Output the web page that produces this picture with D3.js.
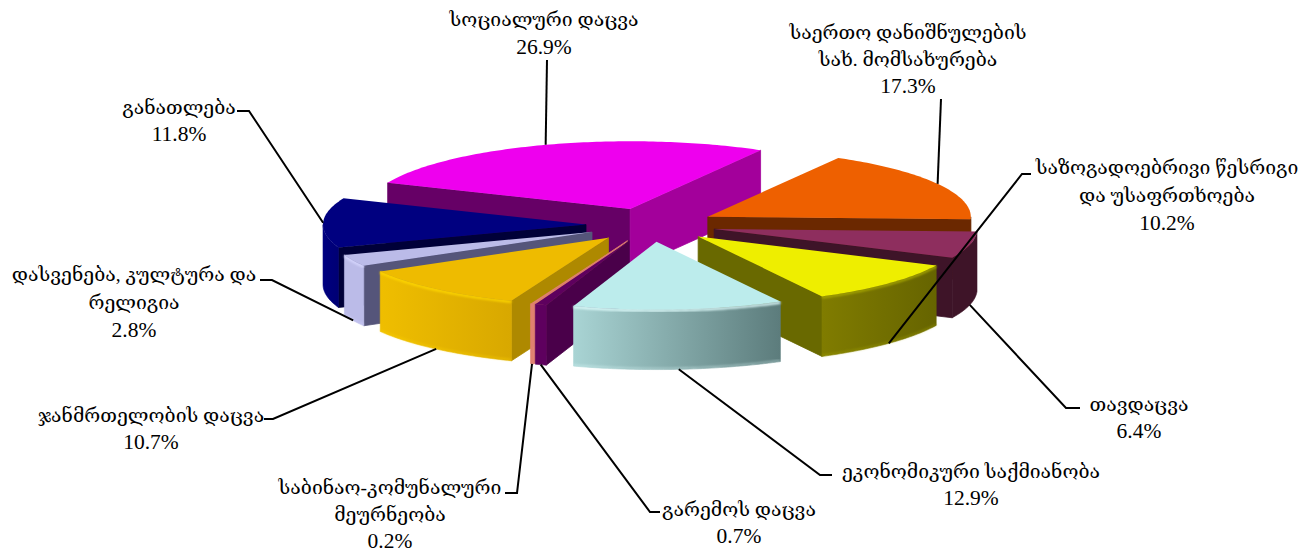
<!DOCTYPE html>
<html>
<head>
<meta charset="utf-8">
<style>
html, body { margin: 0; padding: 0; background: #fff; }
svg { display: block; }
text { font-family: "Liberation Serif", "DejaVu Serif", serif; font-size: 19.4px; fill: #000; text-anchor: middle; }
.pct { font-size: 21.5px; }
</style>
<script src="https://cdnjs.cloudflare.com/ajax/libs/d3/7.8.5/d3.min.js"></script>
</head>
<body>
<div id="chart-container"></div>
<script>
    const categories = [
        ["სოციალური დაცვა"],
        ["საერთო დანიშნულების", "სახ. მომსახურება"],
        ["თავდაცვა"],
        ["საზოგადოებრივი წესრიგი", "და უსაფრთხოება"],
        ["ეკონომიკური საქმიანობა"],
        ["გარემოს დაცვა"],
        ["საბინაო-კომუნალური", "მეურნეობა"],
        ["ჯანმრთელობის დაცვა"],
        ["დასვენება, კულტურა და", "რელიგია"],
        ["განათლება"]
    ];
    const values = [26.9, 17.3, 6.4, 10.2, 12.9, 0.7, 0.2, 10.7, 2.8, 11.8];

    // colours per slice
    const topColors  = ["#ee00ee", "#ee6000", "#8e2e5e", "#eeee00", "#bcecec", "#5e005e", "#e08070", "#eebb00", "#bbbbe8", "#000080"];
    const startWall  = ["#660066", "#6b2800", "#3e1428", "#696900", "#5f7f7f", "#4a004a", "#e08070", "#ae8900", "#55557a", "#000038"];
    const endWall    = ["#a3009b", "#6b2800", "#3e1428", "#696900", "#5f7f7f", "#4a004a", "#e08070", "#ae8900", "#55557a", "#000038"];
    const rimLeft    = ["#a3009b", "#6b2800", "#3e1428", "#807c00", "#a9d4d4", "#5e005e", "#e08070", "#efbe00", "#bbbbe8", "#000080"];
    const rimRight   = ["#a3009b", "#6b2800", "#3e1428", "#666400", "#5c7c7c", "#5e005e", "#e08070", "#d8a800", "#bbbbe8", "#000070"];
    const rimLight   = [null, null, null, "#a8a800", "#e2ffff", null, null, "#ffd800", "#d8d8ff", null];

    // paint order, back to front
    const drawOrder = [0, 1, 2, 3, 9, 8, 7, 6, 5, 4];

    // label placement: text centre, first baseline, line gap, leader elbow and leader end
    const labelX    = [544, 908, 1139, 1167, 971, 739, 390, 151, 134, 179];
    const labelY    = [26, 39, 411, 174, 478, 516, 494, 422, 281, 114];
    const lineGap   = [28, 27, 27, 28, 27, 27, 27, 27, 28, 27];
    const elbowX    = [547, 941, 1066, 1022, 820, 650, 517, 273, 272, 249];
    const elbowY    = [60, 99, 408, 174, 475, 512, 493, 419, 280, 111];
    const endX      = [547, 941, 1080, 1031, 832, 660, 505, 264, 260, 237];

    const width = 1311;
    const height = 552;
    const depth = 60;
    const tilt = 0.258;
    const radius = 263;
    const explode = 65;
    const start = -67.2 * Math.PI / 180;

    // ground plane to screen: clockwise angle, y squashed by tilt
    const x = d3.scaleLinear().domain([-1, 1]).range([651 - radius, 651 + radius]);
    const y = d3.scaleLinear().domain([-1, 1]).range([225 - radius * tilt, 225 + radius * tilt]);

    const pie = d3.pie().sort(null).startAngle(start).endAngle(start + 2 * Math.PI);
    const slices = pie(values).map((s, i) => {
        const mid = (s.startAngle + s.endAngle) / 2;
        return {
            i: i,
            a0: s.startAngle,
            a1: s.endAngle,
            mid: mid,
            ox: explode / radius * Math.sin(mid),
            oy: -explode / radius * Math.cos(mid)
        };
    });

    const line = d3.line();
    const apex = (s, dz) => [x(s.ox), y(s.oy) + dz];
    const rim = (s, a, dz) => [x(s.ox + Math.sin(a)), y(s.oy - Math.cos(a)) + dz];
    const arcPoints = (s, a0, a1, dz) => {
        const n = Math.max(2, Math.ceil(Math.abs(a1 - a0) * 60));
        return d3.range(n + 1).map(k => rim(s, a0 + (a1 - a0) * k / n, dz));
    };

    const svg = d3.select("#chart-container")
        .append("svg")
        .attr("width", width)
        .attr("height", height);

    const defs = svg.append("defs");
    defs.append("filter").attr("id", "soft")
        .append("feGaussianBlur").attr("stdDeviation", 0.8);

    slices.forEach(s => {
        const ends = arcPoints(s, s.a0, s.a1, 0);
        const grad = defs.append("linearGradient")
            .attr("id", "rim" + s.i)
            .attr("gradientUnits", "userSpaceOnUse")
            .attr("x1", d3.min(ends, p => p[0])).attr("x2", d3.max(ends, p => p[0]))
            .attr("y1", 0).attr("y2", 0);
        grad.append("stop").attr("offset", 0).attr("stop-color", rimLeft[s.i]);
        grad.append("stop").attr("offset", 1).attr("stop-color", rimRight[s.i]);
    });

    // the part of a slice's rim that faces the viewer
    function frontRange(s) {
        const half = Math.PI / 2;
        if (s.a1 < half || s.a0 > 3 * half) return null;
        return [Math.max(s.a0, half), Math.min(s.a1, 3 * half)];
    }

    // side wall, stroked in its own colour so no seam shows next to the rim
    function addWall(g, s, a, color) {
        g.append("path")
            .attr("d", line([apex(s, 0), rim(s, a, 0), rim(s, a, depth), apex(s, depth)]) + "Z")
            .attr("fill", color)
            .attr("stroke", color)
            .attr("stroke-width", 0.8);
    }

    const chart = svg.append("g");

    drawOrder.map(i => slices[i]).forEach(s => {
        const g = chart.append("g").attr("class", "slice");
        const fr = frontRange(s);

        if (Math.sin(s.a0) < 0) addWall(g, s, s.a0, startWall[s.i]);
        if (Math.sin(s.a1) > 0) addWall(g, s, s.a1, endWall[s.i]);

        if (fr) {
            const pts = arcPoints(s, fr[0], fr[1], 0).concat(arcPoints(s, fr[1], fr[0], depth));
            g.append("path").attr("d", line(pts) + "Z")
                .attr("fill", "url(#rim" + s.i + ")")
                .attr("stroke", "url(#rim" + s.i + ")")
                .attr("stroke-width", 0.6);
            // lighter bevel along the top and bottom edge of the rim
            if (rimLight[s.i]) {
                g.append("path").attr("d", line(arcPoints(s, fr[0], fr[1], 1)))
                    .attr("fill", "none").attr("stroke", rimLight[s.i]).attr("stroke-width", 2.2)
                    .attr("filter", "url(#soft)");
                g.append("path").attr("d", line(arcPoints(s, fr[0], fr[1], depth - 1)))
                    .attr("fill", "none").attr("stroke", rimLight[s.i]).attr("stroke-width", 1.6)
                    .attr("stroke-opacity", 0.45).attr("filter", "url(#soft)");
            }
        }
        g.append("path")
            .attr("d", line([apex(s, 0)].concat(arcPoints(s, s.a0, s.a1, 0))) + "Z")
            .attr("fill", topColors[s.i]);
    });

    // leader lines start on the slice rim, on the lower edge for slices at the front
    const leaders = svg.append("g");
    slices.forEach(s => {
        const front = Math.cos(s.mid) < 0;
        const anchor = rim(s, s.mid, front ? depth : 0);
        leaders.append("path")
            .attr("d", line([anchor, [elbowX[s.i], elbowY[s.i]], [endX[s.i], elbowY[s.i]]]))
            .attr("fill", "none")
            .attr("stroke", "#000")
            .attr("stroke-width", 2);
    });

    const labels = svg.append("g");
    slices.forEach(s => {
        const rows = categories[s.i].concat([d3.format(".1f")(values[s.i]) + "%"]);
        labels.append("text")
            .selectAll("tspan")
            .data(rows)
            .join("tspan")
            .attr("class", (d, k) => k === rows.length - 1 ? "pct" : null)
            .attr("x", labelX[s.i])
            .attr("y", (d, k) => labelY[s.i] + k * lineGap[s.i])
            .text(d => d);
    });
</script>
</body>
</html>
